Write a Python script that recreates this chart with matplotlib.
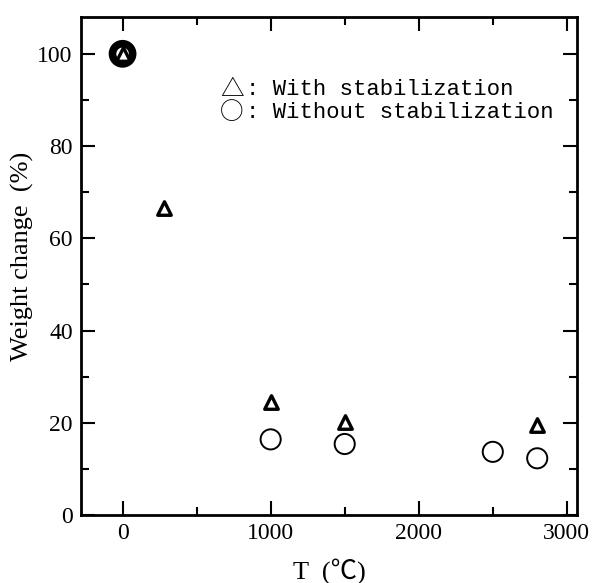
import matplotlib
matplotlib.use("Agg")
import matplotlib.pyplot as plt
from matplotlib.ticker import MultipleLocator

# data
t_with = [0, 280, 1000, 1500, 2800]
w_with = [100, 66.6, 24.6, 20.2, 19.5]
t_without = [0, 1000, 1500, 2500, 2800]
w_without = [100, 16.4, 15.4, 13.7, 12.3]

legend_sym = ["△", "○"]
legend_txt = [": With stabilization", ": Without stabilization"]

serif = ["Liberation Serif", "Noto Sans CJK JP", "DejaVu Serif"]
mono = ["Liberation Mono", "DejaVu Sans Mono"]

fig = plt.figure(figsize=(5.92, 5.83), dpi=100)
ax = fig.add_axes([0.137, 0.1166, 0.838, 0.8544])

# circles first; the one at 0 gets a thick edge so it shows as a dark ring
lw_circ = [5.5] + [1.4] * (len(t_without) - 1)
ax.scatter(t_without, w_without, s=210, marker="o", facecolors="white",
           edgecolors="black", linewidths=lw_circ, zorder=3)
ax.scatter(t_with, w_with, s=95, marker="^", facecolors="white",
           edgecolors="black", linewidths=2.4, zorder=4)

ax.set_xlim(-280, 3070)
ax.set_ylim(0, 108)
ax.xaxis.set_major_locator(MultipleLocator(1000))
ax.xaxis.set_minor_locator(MultipleLocator(500))
ax.yaxis.set_major_locator(MultipleLocator(20))
ax.yaxis.set_minor_locator(MultipleLocator(10))
ax.tick_params(which="both", direction="in", top=True, right=True, width=1.5)
ax.tick_params(which="major", length=10, labelsize=17, pad=6)
ax.tick_params(which="minor", length=6)
for lab in ax.get_xticklabels() + ax.get_yticklabels():
    lab.set_family(serif)
for sp in ax.spines.values():
    sp.set_linewidth(2)

ax.set_xlabel("T  (℃)", family=serif, fontsize=19, labelpad=10)
ax.set_ylabel("Weight change  (%)", family=serif, fontsize=19)
ax.yaxis.set_label_coords(-0.095, 0.52)

# hand-made legend: symbol glyph + monospaced text
for i in range(2):
    y = 0.855 - i * 0.047
    ax.text(0.28, y, legend_sym[i], transform=ax.transAxes,
            family="Noto Sans CJK JP", fontsize=17, va="center", ha="left")
    ax.text(0.333, y, legend_txt[i], transform=ax.transAxes,
            family=mono, fontsize=16, va="center", ha="left", clip_on=False)

fig.savefig("out.png", dpi=100)
